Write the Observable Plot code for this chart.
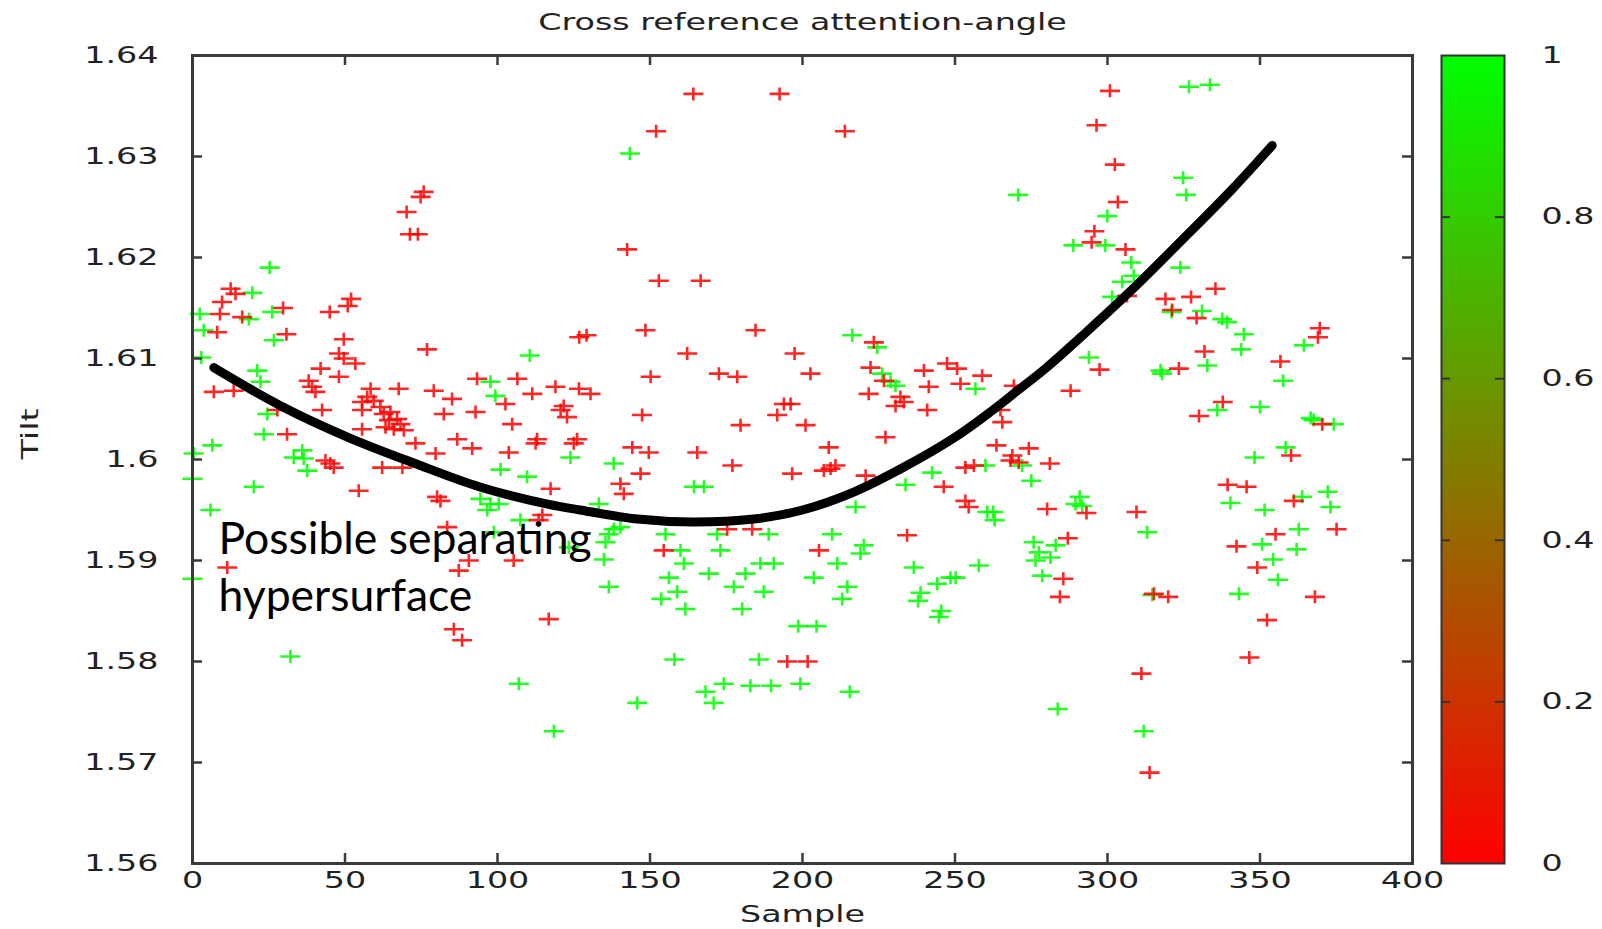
<!DOCTYPE html>
<html><head><meta charset="utf-8">
<script src="https://cdn.jsdelivr.net/npm/d3@7"></script>
<script src="https://cdn.jsdelivr.net/npm/@observablehq/plot@0.6"></script>
<style>
html,body{margin:0;padding:0;background:#fff;}
#wrap{position:relative;width:1602px;height:929px;overflow:hidden;}
#wrap > svg{position:absolute;top:0;}
</style></head><body><div id="wrap"></div>
<script>
const title = "Cross reference attention-angle";
const xLabel = "Sample";
const yLabel = "Tilt";
const annotation = "Possible separating\nhypersurface";
const xTicks = [0, 50, 100, 150, 200, 250, 300, 350, 400];
const yTicks = [1.56, 1.57, 1.58, 1.59, 1.60, 1.61, 1.62, 1.63, 1.64];
const cbTicks = [0, 0.2, 0.4, 0.6, 0.8, 1];

const redX = [75.8,74.8,70.2,71.3,73.9,12.5,14.1,9.7,52.0,50.9,9.0,16.3,29.7,45.0,8.1,30.8,49.6,126.8,129.2,48.0,49.6,53.4,76.9,42.0,38.1,39.2,40.3,48.0,7.0,13.5,58.4,57.3,55.6,59.4,67.6,79.1,85.1,93.3,106.5,102.6,111.4,119.0,121.7,120.7,122.8,126.7,126.1,125.0,82.4,92.8,104.8,113.0,112.5,86.8,91.7,103.7,73.1,79.7,117.4,61.6,62.7,64.9,64.4,67.1,68.2,63.3,66.0,69.3,55.6,55.6,42.5,27.8,31.0,43.6,45.2,46.3,54.5,62.2,68.8,80.2,81.3,114.7,113.5,83.5,90.6,87.3,105.3,11.4,85.7,88.4,116.8,164.2,192.5,152.0,213.9,142.5,152.9,166.6,148.5,184.6,223.4,162.2,197.4,150.2,172.6,178.6,202.6,130.5,222.3,226.7,221.7,232.1,230.5,233.2,239.8,247.4,250.7,241.4,251.8,258.9,240.9,227.2,193.9,196.1,191.7,147.4,179.7,201.0,144.2,149.6,165.5,208.6,177.0,146.9,196.6,207.0,209.2,210.8,140.3,141.4,220.7,253.4,256.2,246.3,253.4,254.5,175.3,183.5,234.3,154.5,205.4,195.0,201.7,300.8,296.4,302.4,303.4,295.7,294.8,305.9,306.4,335.4,319.0,327.4,321.2,329.2,369.6,369.0,331.8,297.4,323.4,356.7,269.3,287.9,264.9,265.5,337.8,330.0,370.4,263.6,268.8,268.2,270.9,274.2,281.1,360.2,339.4,345.6,293.1,280.2,309.5,361.1,375.1,355.1,342.3,349.1,287.0,285.5,284.4,315.2,319.9,368.0,352.3,346.5,311.1,313.8];
const redY = [1.6265,1.6260,1.6245,1.6223,1.6223,1.6169,1.6164,1.6156,1.6159,1.6152,1.6144,1.6141,1.6150,1.6146,1.6126,1.6124,1.6119,1.6121,1.6123,1.6105,1.6100,1.6095,1.6109,1.6090,1.6078,1.6072,1.6067,1.6082,1.6067,1.6068,1.6070,1.6062,1.6057,1.6058,1.6070,1.6068,1.6060,1.6080,1.6080,1.6055,1.6065,1.6072,1.6053,1.6049,1.6042,1.6070,1.6020,1.6016,1.6045,1.6047,1.6035,1.6020,1.6016,1.6020,1.6011,1.6007,1.6016,1.6006,1.5971,1.6052,1.6045,1.6047,1.6039,1.6040,1.6035,1.6032,1.6030,1.6029,1.6049,1.6030,1.6049,1.6049,1.6025,1.5999,1.5996,1.5992,1.5969,1.5992,1.5992,1.5963,1.5959,1.5945,1.5940,1.5933,1.5900,1.5890,1.5900,1.5893,1.5832,1.5821,1.5842,1.6362,1.6362,1.6325,1.6325,1.6208,1.6177,1.6177,1.6128,1.6128,1.6116,1.6105,1.6105,1.6082,1.6085,1.6082,1.6085,1.6065,1.6091,1.6078,1.6065,1.6062,1.6053,1.6057,1.6088,1.6095,1.6090,1.6072,1.6075,1.6083,1.6049,1.6022,1.6055,1.6055,1.6044,1.6044,1.6034,1.6034,1.6012,1.6007,1.6007,1.6012,1.5994,1.5986,1.5986,1.5989,1.5991,1.5994,1.5976,1.5966,1.5984,1.5992,1.5994,1.5973,1.5959,1.5953,1.5931,1.5931,1.5925,1.5910,1.5910,1.5800,1.5800,1.6365,1.6331,1.6292,1.6255,1.6226,1.6215,1.6208,1.6162,1.6169,1.6159,1.6161,1.6148,1.6140,1.6130,1.6121,1.6107,1.6089,1.6090,1.6097,1.6073,1.6068,1.6049,1.6037,1.6057,1.6043,1.6035,1.6014,1.6004,1.5999,1.5997,1.6011,1.5996,1.6004,1.5975,1.5973,1.5947,1.5951,1.5948,1.5959,1.5931,1.5926,1.5914,1.5893,1.5922,1.5882,1.5864,1.5867,1.5864,1.5864,1.5841,1.5804,1.5788,1.5690];

const greenX = [25.3,19.6,2.4,18.5,26.1,3.7,26.7,2.9,110.6,21.2,22.3,97.7,99.3,123.9,101.0,109.7,24.5,23.4,6.5,0.4,36.0,33.2,36.5,37.6,0,20.1,5.9,94.4,97.7,100.4,96.6,107.5,98.8,0,123.4,32.1,107.0,118.5,143.4,216.3,224.5,226.1,228.9,230.5,256.7,138.1,164.4,167.7,217.4,260.0,242.5,233.8,260.6,133.2,138.1,140.3,136.5,135.4,134.9,155.1,172.0,188.9,209.7,236.5,160.0,173.1,220.1,219.0,161.1,186.2,190.6,211.4,156.2,169.3,181.3,203.7,248.5,250.2,257.8,136.5,244.2,158.9,153.7,161.6,177.5,187.3,180.2,214.7,213.0,238.7,237.9,245.5,244.7,198.6,204.6,158.0,185.7,174.2,168.2,170.9,182.9,189.7,199.3,215.5,145.8,326.7,333.6,324.8,325.8,270.7,299.9,288.8,299.3,307.8,308.6,304.8,323.9,301.5,331.0,337.6,339.2,344.7,321.0,364.4,343.8,293.9,317.4,317.9,332.7,357.6,336.0,350.0,366.6,367.6,374.2,272.0,275.0,348.2,358.4,340.3,290.9,289.5,291.7,262.5,263.0,313.0,351.5,363.8,372.2,373.1,362.7,350.7,362.0,354.3,355.9,275.8,283.0,277.5,276.4,281.3,278.6,314.7,343.1,283.7,311.9];
const greenY = [1.6190,1.6165,1.6144,1.6139,1.6146,1.6128,1.6118,1.6101,1.6103,1.6088,1.6077,1.6077,1.6063,1.6002,1.5990,1.5983,1.6045,1.6025,1.6014,1.6006,1.6009,1.6002,1.6001,1.5989,1.5981,1.5973,1.5950,1.5961,1.5956,1.5956,1.5950,1.5940,1.5928,1.5882,1.5913,1.5805,1.5778,1.5731,1.6303,1.6123,1.6111,1.6085,1.6077,1.6073,1.6070,1.5996,1.5973,1.5973,1.5953,1.5994,1.5987,1.5975,1.5948,1.5956,1.5931,1.5933,1.5926,1.5918,1.5901,1.5926,1.5926,1.5926,1.5926,1.5893,1.5910,1.5910,1.5915,1.5907,1.5897,1.5897,1.5897,1.5897,1.5883,1.5887,1.5887,1.5883,1.5883,1.5883,1.5895,1.5874,1.5877,1.5869,1.5862,1.5852,1.5874,1.5869,1.5852,1.5874,1.5862,1.5868,1.5860,1.5850,1.5844,1.5835,1.5835,1.5802,1.5802,1.5778,1.5770,1.5759,1.5776,1.5776,1.5778,1.5770,1.5759,1.6369,1.6371,1.6279,1.6262,1.6262,1.6241,1.6212,1.6212,1.6195,1.6182,1.6176,1.6190,1.6161,1.6147,1.6139,1.6136,1.6124,1.6146,1.6113,1.6109,1.6101,1.6088,1.6085,1.6093,1.6078,1.6049,1.6052,1.6041,1.6039,1.6035,1.5994,1.5979,1.6002,1.6012,1.5957,1.5963,1.5956,1.5954,1.5948,1.5940,1.5928,1.5950,1.5963,1.5968,1.5953,1.5931,1.5916,1.5911,1.5901,1.5881,1.5918,1.5915,1.5908,1.5900,1.5903,1.5885,1.5866,1.5867,1.5753,1.5731];

const curveX = [7, 29, 51, 73, 94, 116, 127, 146, 164, 184, 200, 217, 233, 250, 262, 270, 280, 293, 308, 324, 341, 354];
const curveY = [1.6091, 1.6053, 1.6022, 1.5996, 1.5973, 1.5956, 1.5950, 1.5941, 1.5938, 1.5941, 1.5950, 1.5968, 1.5992, 1.6022, 1.6048, 1.6067, 1.6091, 1.6126, 1.6168, 1.6216, 1.6268, 1.6311];

// ---- layout & style ----
const W = 1602, H = 929, ML = 192, MR = 190, MT = 55, MB = 66;
const plotW = W - ML - MR, plotH = H - MT - MB;
const tickLen = 10;
const axisColor = "#3a3a3a";
const textColor = "#222";
const STRETCH = 1.45;
const colorScale = {type: "linear", domain: [0, 1], range: ["#ff0000", "#00ff00"], interpolate: "rgb"};

const points = [
  ...greenX.map((x, i) => ({x, y: greenY[i], v: 1})),
  ...redX.map((x, i) => ({x, y: redY[i], v: 0}))
];
const curve = curveX.map((x, i) => ({x, y: curveY[i]}));

const plusSymbol = {
  draw(ctx) {
    ctx.moveTo(-10, 0); ctx.lineTo(10, 0);
    ctx.moveTo(0, -6.5); ctx.lineTo(0, 6.5);
  }
};

const fmtY = d => String(+d.toFixed(2));

const main = Plot.plot({
  width: W, height: H,
  marginLeft: ML, marginRight: MR, marginTop: MT, marginBottom: MB,
  style: {fontFamily: "DejaVu Sans", fontSize: "23px", color: textColor, background: "transparent"},
  x: {domain: [0, 400]},
  y: {domain: [1.56, 1.64]},
  color: colorScale,
  marks: [
    Plot.dot(points, {x: "x", y: "y", stroke: "v", symbol: plusSymbol, r: 5, strokeWidth: 2.6, fill: "none", strokeOpacity: 0.85}),
    Plot.line(curve, {x: "x", y: "y", stroke: "black", strokeWidth: 9, curve: "catmull-rom"}),
    Plot.tickX(xTicks, {x: d => d, insetTop: plotH - tickLen, stroke: axisColor, strokeWidth: 2.5}),
    Plot.tickX(xTicks, {x: d => d, insetBottom: plotH - tickLen, stroke: axisColor, strokeWidth: 2.5}),
    Plot.tickY(yTicks, {y: d => d, insetRight: plotW - tickLen, stroke: axisColor, strokeWidth: 2.5}),
    Plot.tickY(yTicks, {y: d => d, insetLeft: plotW - tickLen, stroke: axisColor, strokeWidth: 2.5}),
    Plot.frame({stroke: axisColor, strokeWidth: 3}),
    Plot.axisX({ticks: xTicks, tickSize: 0, tickPadding: 8, label: null, tickFormat: d => String(d), fill: textColor}),
    Plot.axisY({ticks: yTicks, tickSize: 0, tickPadding: 34, label: null, tickFormat: fmtY, fill: textColor}),
    Plot.text([title], {frameAnchor: "top", dy: -42, fill: textColor}),
    Plot.text([yLabel], {frameAnchor: "left", dx: -162, rotate: -90, fill: textColor}),
    Plot.text([xLabel], {frameAnchor: "bottom", dy: 58, fill: textColor}),
    Plot.text([annotation], {x: 8.5, y: 1.5946, textAnchor: "start", lineAnchor: "top", fontFamily: "Lato", fontSize: 44.5, lineHeight: 1.28, fill: "black"})
  ]
});

// ---- colour bar ----
const cbLeft = 1436, cbML = 5, cbBarW = 63;
const cbW = W - cbLeft;
const cbStops = d3.range(0, 1, 0.004);
const cb = Plot.plot({
  width: cbW, height: H,
  marginLeft: cbML, marginRight: cbW - cbML - cbBarW, marginTop: MT, marginBottom: MB,
  style: {fontFamily: "DejaVu Sans", fontSize: "23px", color: textColor, background: "transparent"},
  x: {domain: [0, 1], axis: null},
  y: {domain: [0, 1]},
  color: colorScale,
  marks: [
    Plot.rect(cbStops, {x1: 0, x2: 1, y1: d => d, y2: d => Math.min(1, d + 0.006), fill: d => d + 0.002}),
    Plot.tickY(cbTicks.slice(1, -1), {y: d => d, insetRight: cbBarW - 9, stroke: "#333", strokeWidth: 2}),
    Plot.tickY(cbTicks.slice(1, -1), {y: d => d, insetLeft: cbBarW - 9, stroke: "#333", strokeWidth: 2}),
    Plot.frame({stroke: "#333", strokeWidth: 2}),
    Plot.axisY({anchor: "right", ticks: cbTicks, tickSize: 0, tickPadding: 37, label: null, tickFormat: d => String(d), fill: textColor})
  ]
});

const wrap = document.getElementById("wrap");
main.style.left = "0px";
cb.style.left = cbLeft + "px";
wrap.appendChild(main);
wrap.appendChild(cb);

// horizontally stretched gnuplot-style lettering
for (const t of wrap.querySelectorAll("text")) {
  if (t.closest('[font-family="Lato"]')) continue;
  const len = t.getComputedTextLength();
  if (len > 0) {
    t.setAttribute("textLength", (len * STRETCH).toFixed(1));
    t.setAttribute("lengthAdjust", "spacingAndGlyphs");
  }
}
</script>
</body></html>
